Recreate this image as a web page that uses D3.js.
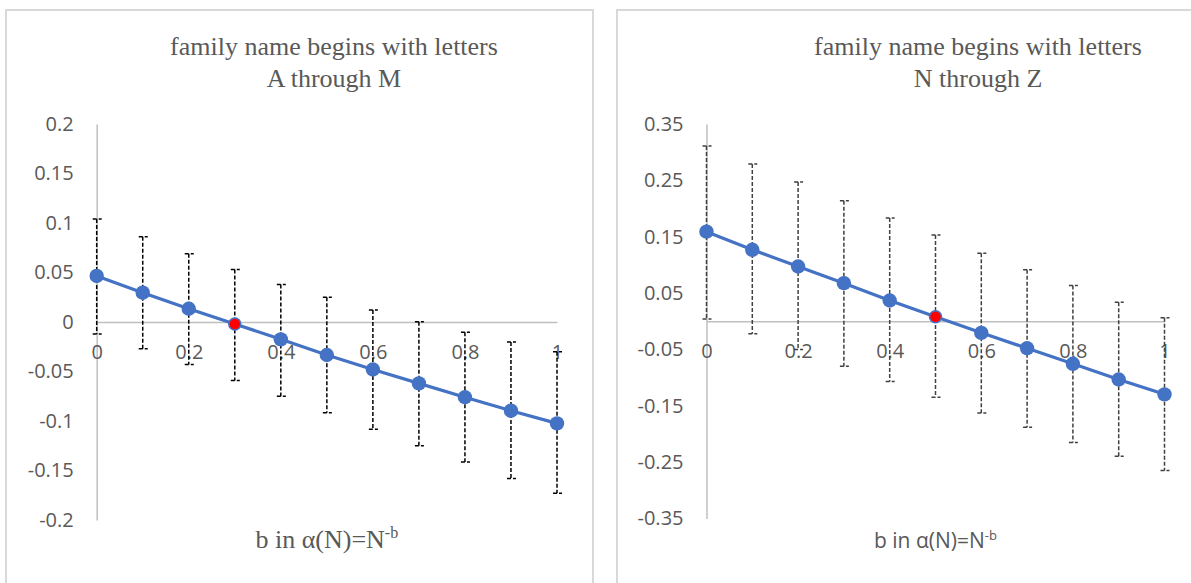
<!DOCTYPE html>
<html>
<head>
<meta charset="utf-8">
<script src="https://cdn.jsdelivr.net/npm/d3@7"></script>
<style>
  body { margin: 0; background: #fff; }
</style>
</head>
<body>
<div class="charts"></div>
<script>
// x values (b) and the labelled x ticks
var bValues = [0, 0.1, 0.2, 0.3, 0.4, 0.5, 0.6, 0.7, 0.8, 0.9, 1];
var xTicks = [0, 0.2, 0.4, 0.6, 0.8, 1];

// family name A through M
var amMean  = [0.0465, 0.0296, 0.0134, -0.002, -0.0175, -0.0333, -0.048, -0.062, -0.076, -0.0896, -0.1024];
var amUpper = [0.104, 0.086, 0.069, 0.053, 0.038, 0.025, 0.012, 0.0003, -0.0104, -0.0202, -0.03];
var amLower = [-0.012, -0.027, -0.043, -0.059, -0.075, -0.0916, -0.1084, -0.1249, -0.1414, -0.158, -0.173];
var amTicks = [0.2, 0.15, 0.1, 0.05, 0, -0.05, -0.1, -0.15, -0.2];
var amHighlight = 3;

// family name N through Z
var nzMean  = [0.159, 0.1268, 0.0972, 0.0676, 0.0368, 0.008, -0.0206, -0.0479, -0.0755, -0.1033, -0.1297];
var nzUpper = [0.311, 0.279, 0.247, 0.214, 0.183, 0.153, 0.1208, 0.0913, 0.0634, 0.0337, 0.006];
var nzLower = [0.004, -0.022, -0.05, -0.08, -0.107, -0.135, -0.1627, -0.1883, -0.215, -0.2394, -0.265];
var nzTicks = [0.35, 0.25, 0.15, 0.05, -0.05, -0.15, -0.25, -0.35];
var nzHighlight = 5;

var svg = d3.select(".charts")
            .append("svg")
            .attr("width", 1191)
            .attr("height", 583);

var fmt = function(d){ return String(Math.round(d * 100) / 100); };

function drawPanel(p) {
    var g = svg.append("g");

    // frame
    g.append("rect")
     .attr("x", p.frame[0]).attr("y", p.frame[1])
     .attr("width", p.frame[2]).attr("height", p.frame[3])
     .attr("fill", "none")
     .attr("stroke", "#d9d9d9")
     .attr("stroke-width", 2);

    var x = d3.scaleLinear().domain([0, 1]).range([p.left, p.right]);
    var y = d3.scaleLinear().domain([p.ticks[p.ticks.length - 1], p.ticks[0]]).range([p.bottom, p.top]);

    // Y axis
    var ya = g.append("g")
        .attr("transform", "translate(" + x(0) + ",0)")
        .call(d3.axisLeft(y).tickValues(p.ticks).tickSize(0).tickPadding(23).tickFormat(fmt));

    // X axis at zero
    var xa = g.append("g")
        .attr("transform", "translate(0," + y(0) + ")")
        .call(d3.axisBottom(x).tickValues(xTicks).tickSize(0).tickPadding(23).tickFormat(fmt));

    [ya, xa].forEach(function(a){
        a.select(".domain").attr("stroke", "#bfbfbf").attr("stroke-width", 1.5);
        a.selectAll("text")
         .attr("fill", "#595959")
         .style("font-family", "'Open Sans', sans-serif")
         .style("font-size", "20px");
    });

    // error bars
    var eb = g.append("g")
        .attr("stroke", p.errColor)
        .attr("stroke-width", 1.5)
        .attr("stroke-dasharray", "4,2");
    bValues.forEach(function(b, i){
        eb.append("line")
          .attr("x1", x(b)).attr("x2", x(b))
          .attr("y1", y(p.upper[i])).attr("y2", y(p.lower[i]));
        [p.upper[i], p.lower[i]].forEach(function(v){
            eb.append("line")
              .attr("x1", x(b) - 4).attr("x2", x(b) + 5)
              .attr("y1", y(v)).attr("y2", y(v));
        });
    });

    // line
    var line = d3.line()
                 .x(function(d, i){ return x(bValues[i]); })
                 .y(function(d){ return y(d); });
    g.append("path")
     .attr("d", line(p.mean))
     .attr("fill", "none")
     .attr("stroke", "#4472c4")
     .attr("stroke-width", 3.2);

    // markers
    g.selectAll(".pt")
     .data(p.mean)
     .enter().append("circle")
     .attr("cx", function(d, i){ return x(bValues[i]); })
     .attr("cy", function(d){ return y(d); })
     .attr("r", function(d, i){ return i == p.highlight ? 6 : 7.2; })
     .attr("fill", function(d, i){ return i == p.highlight ? "#ff0000" : "#4472c4"; })
     .attr("stroke", "#4472c4")
     .attr("stroke-width", function(d, i){ return i == p.highlight ? 1.5 : 0; });

    // title
    var t = g.append("text")
     .attr("text-anchor", "middle")
     .attr("fill", "#595959")
     .style("font-family", "'Liberation Serif', serif")
     .style("font-size", "26px");
    t.append("tspan").attr("x", p.titleX).attr("y", 55).text("family name begins with letters");
    t.append("tspan").attr("x", p.titleX).attr("y", 87).text(p.subtitle);

    // axis title
    var at = g.append("text")
     .attr("x", (p.left + p.right) / 2)
     .attr("y", 548)
     .attr("text-anchor", "middle")
     .attr("fill", "#595959")
     .style("font-family", p.axisFont)
     .style("font-size", p.axisSize + "px");
    at.append("tspan").text("b in α(N)=N");
    at.append("tspan")
      .attr("dy", -p.axisSize * 0.4)
      .style("font-size", (p.axisSize * 0.62) + "px")
      .text("-b");
}

drawPanel({
    frame: [6, 10, 587, 600],
    left: 96.7, right: 557, top: 124, bottom: 520,
    ticks: amTicks, mean: amMean, upper: amUpper, lower: amLower,
    highlight: amHighlight, errColor: "#000",
    titleX: 334, subtitle: "A through M",
    axisFont: "'Liberation Serif', serif", axisSize: 26
});

drawPanel({
    frame: [617, 10, 600, 600],
    left: 706.5, right: 1164.5, top: 124, bottom: 518.5,
    ticks: nzTicks, mean: nzMean, upper: nzUpper, lower: nzLower,
    highlight: nzHighlight, errColor: "#404040",
    titleX: 978, subtitle: "N through Z",
    axisFont: "'Open Sans', sans-serif", axisSize: 21
});
</script>
</body>
</html>
